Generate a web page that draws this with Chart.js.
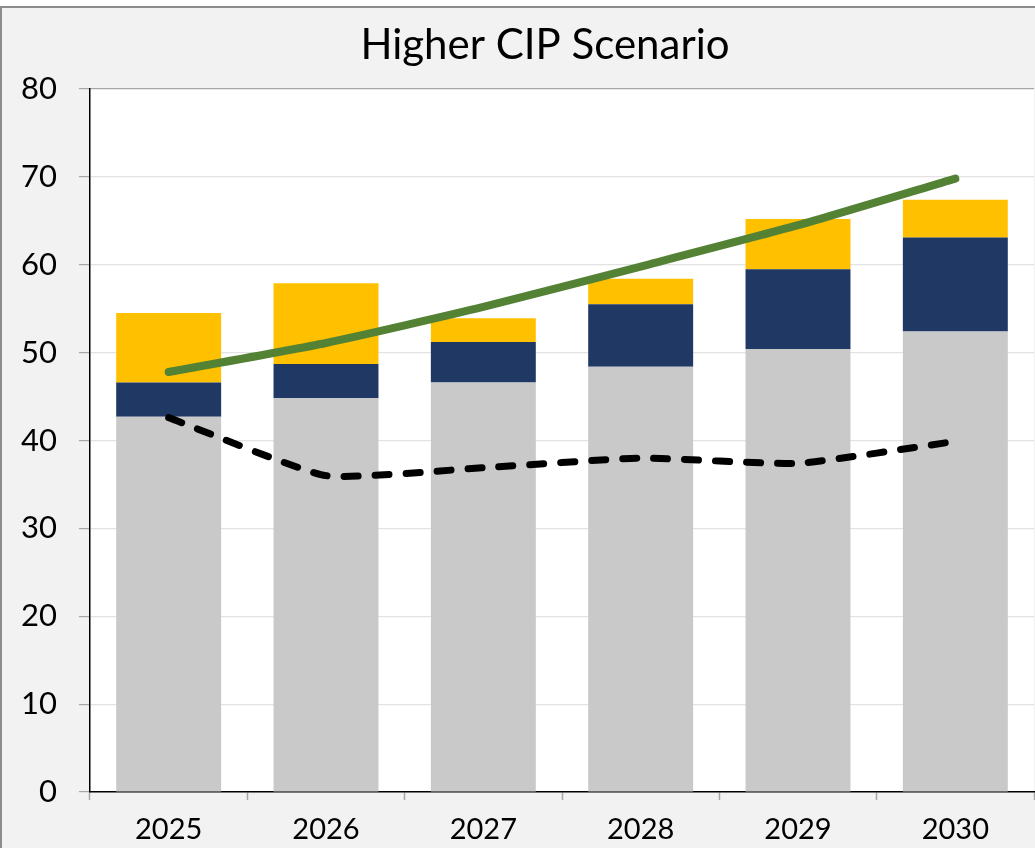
<!DOCTYPE html>
<html>
<head>
<meta charset="utf-8">
<script src="https://cdn.jsdelivr.net/npm/chart.js@4/dist/chart.umd.min.js"></script>
<style>
  html, body { margin: 0; padding: 0; background: #ffffff; }
  #wrap { width: 1035px; height: 848px; }
</style>
</head>
<body>
<div id="wrap"><canvas id="cipChart" width="1035" height="848"></canvas></div>
<script>
const years = ['2025', '2026', '2027', '2028', '2029', '2030'];
const baseLoad = [42.7, 44.8, 46.6, 48.4, 50.4, 52.4];
const navyPart = [3.9, 3.9, 4.6, 7.1, 9.1, 10.7];
const yellowPart = [7.9, 9.2, 2.7, 2.9, 5.7, 4.3];
const greenLine = [47.8, 51.1, 55.2, 59.8, 64.5, 69.8];
const dashedLine = [42.6, 36.0, 36.9, 38.0, 37.4, 39.9];
const yTicks = [0, 10, 20, 30, 40, 50, 60, 70, 80];
const chartTitle = 'Higher CIP Scenario';

const fontFamily = 'Lato, "Open Sans", sans-serif';

// grey frame + white plot area
const backdrop = {
    id: 'backdrop',
    beforeDraw(chart) {
        const ctx = chart.ctx;
        const a = chart.chartArea;
        ctx.save();
        ctx.fillStyle = '#ffffff';
        ctx.fillRect(0, 0, chart.width, chart.height);
        ctx.fillStyle = '#f2f2f2';
        ctx.fillRect(1, 7, chart.width, chart.height);
        ctx.strokeStyle = '#8c8c8c';
        ctx.lineWidth = 2;
        ctx.beginPath();
        ctx.moveTo(1, chart.height);
        ctx.lineTo(1, 7);
        ctx.lineTo(chart.width, 7);
        ctx.stroke();
        ctx.fillStyle = '#ffffff';
        ctx.fillRect(a.left, a.top, a.right - a.left, a.bottom - a.top);
        ctx.restore();
    },
    // title sits a bit left of the plot centre in the original
    afterDraw(chart) {
        const ctx = chart.ctx;
        ctx.save();
        ctx.fillStyle = '#000000';
        ctx.font = '42px ' + fontFamily;
        ctx.textAlign = 'center';
        ctx.textBaseline = 'alphabetic';
        ctx.fillText(chartTitle, 545, 59);
        ctx.restore();
    }
};

new Chart(document.getElementById('cipChart'), {
    data: {
        labels: years,
        datasets: [
            {
                type: 'line',
                data: greenLine,
                borderColor: '#548235',
                borderWidth: 8,
                borderCapStyle: 'round',
                pointRadius: 0,
                tension: 0.2,
                stack: 'green',
                order: 0
            },
            {
                type: 'line',
                data: dashedLine,
                borderColor: '#000000',
                borderWidth: 7,
                borderDash: [14, 17],
                borderCapStyle: 'round',
                pointRadius: 0,
                tension: 0.15,
                stack: 'dash',
                order: 0
            },
            {
                type: 'bar',
                data: baseLoad,
                backgroundColor: '#c9c9c9',
                stack: 'bars',
                order: 1
            },
            {
                type: 'bar',
                data: navyPart,
                backgroundColor: '#203864',
                stack: 'bars',
                order: 1
            },
            {
                type: 'bar',
                data: yellowPart,
                backgroundColor: '#ffc000',
                stack: 'bars',
                order: 1
            }
        ]
    },
    options: {
        responsive: false,
        animation: false,
        layout: { padding: { top: 89, right: 1, left: 0, bottom: 0 } },
        datasets: {
            bar: { barPercentage: 0.667, categoryPercentage: 1.0 }
        },
        plugins: {
            legend: { display: false },
            tooltip: { enabled: false },
            title: { display: false }
        },
        scales: {
            x: {
                stacked: true,
                grid: {
                    display: true,
                    drawOnChartArea: false,
                    tickLength: 8,
                    tickColor: '#a6a6a6',
                    tickWidth: 1.5
                },
                border: { color: '#000000', width: 1.5 },
                ticks: {
                    color: '#000000',
                    padding: 12,
                    font: { family: fontFamily, size: 29 }
                },
                afterFit(scale) { scale.height = 56; }
            },
            y: {
                stacked: true,
                min: 0,
                max: 80,
                afterBuildTicks(scale) {
                    scale.ticks = yTicks.map(v => ({ value: v }));
                },
                grid: {
                    color: ctx => ctx.tick && ctx.tick.value === 80 ? '#a6a6a6' : '#e3e3e3',
                    lineWidth: 1.2,
                    tickLength: 11,
                    tickColor: '#a6a6a6'
                },
                border: { color: '#000000', width: 1.5 },
                ticks: {
                    color: '#000000',
                    padding: 22,
                    font: { family: fontFamily, size: 31 }
                },
                afterFit(scale) { scale.width = 90; }
            }
        }
    },
    plugins: [backdrop]
});
</script>
</body>
</html>
